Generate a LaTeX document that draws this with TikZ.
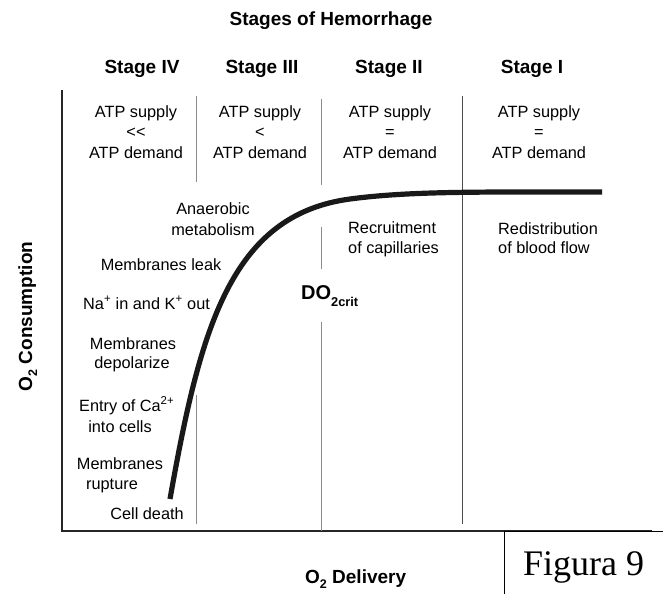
\documentclass[tikz,border=0pt]{standalone}
\usepackage{fontspec}
\setmainfont{Liberation Sans}
\newfontfamily\figserif{Liberation Serif}
\begin{document}
\begin{tikzpicture}[x=1pt,y=-1pt,
  reg/.style={font=\fontsize{16.3}{19}\selectfont, inner sep=0pt, anchor=base},
  regw/.style={reg, anchor=base west},
  bld/.style={font=\fontsize{19}{22}\selectfont\bfseries, inner sep=0pt, anchor=base},
  axisline/.style={line width=2pt, black!85},
  divlight/.style={line width=1pt, black!45},
  divdark/.style={line width=1pt, black!70},
  curveline/.style={line width=5.2pt, black!90}]
\useasboundingbox (0,0) rectangle (663,594);
% axes
\coordinate (ytop) at (62,90);
\coordinate (orig) at (62,531);
\coordinate (xend) at (652,531);
\draw[axisline] (ytop) -- (orig) -- (xend);
% Figura box
\coordinate (boxtl) at (504,531.5);
\coordinate (boxbl) at (504,594);
\coordinate (boxtr) at (663,531.5);
\draw[line width=1pt] (boxbl) -- (boxtl) -- (boxtr);
\node[font=\figserif\fontsize{36}{40}\selectfont, inner sep=0pt, anchor=base west] (fig) at (523,575) {Figura 9};
% dividers
\coordinate (a1) at (196,96); \coordinate (a2) at (196,182);
\coordinate (a3) at (196,395); \coordinate (a4) at (196,524);
\draw[divlight] (a1) -- (a2); \draw[divlight] (a3) -- (a4);
\coordinate (b1) at (321,99); \coordinate (b2) at (321,185);
\coordinate (b3) at (321,227); \coordinate (b4) at (321,269);
\coordinate (b5) at (321,322); \coordinate (b6) at (321,531);
\draw[divlight] (b1) -- (b2); \draw[divlight] (b3) -- (b4); \draw[divlight] (b5) -- (b6);
\coordinate (c1) at (462,96); \coordinate (c2) at (462,524);
\draw[divdark] (c1) -- (c2);
% curve
\coordinate (k0) at (170,499);
\coordinate (k1) at (350,199);
\coordinate (k2) at (602,192);
\draw[curveline] (k0) .. controls (200,330) and (230,215) .. (k1)
                      .. controls (410,191) and (480,192) .. (k2);
% title and stages
\node[bld] (title) at (331,26) {Stages of Hemorrhage};
\node[bld] (s4) at (142,74) {Stage IV};
\node[bld] (s3) at (262,74) {Stage III};
\node[bld] (s2) at (389,74) {Stage II};
\node[bld] (s1) at (532,74) {Stage I};
% ATP rows
\node[reg] (a4s) at (136,117) {ATP supply};
\node[reg] (a4r) at (136,137.5) {<{}<};
\node[reg] (a4d) at (136,158) {ATP demand};
\node[reg] (a3s) at (260,117) {ATP supply};
\node[reg] (a3r) at (260,137.5) {<};
\node[reg] (a3d) at (260,158) {ATP demand};
\node[reg] (a2s) at (390,117) {ATP supply};
\node[reg] (a2r) at (390,137.5) {=};
\node[reg] (a2d) at (390,158) {ATP demand};
\node[reg] (a1s) at (539,117) {ATP supply};
\node[reg] (a1r) at (539,137.5) {=};
\node[reg] (a1d) at (539,158) {ATP demand};
% left texts
\node[reg] (an1) at (213,214) {Anaerobic};
\node[reg] (an2) at (213,235) {metabolism};
\node[reg] (leak) at (161,270.7) {Membranes leak};
\node[regw] (nak) at (83,309) {Na\textsuperscript{+} in and K\textsuperscript{+} out};
\node[reg] (dep1) at (133,349) {Membranes};
\node[reg] (dep2) at (132,368.5) {depolarize};
\node[regw] (ca1) at (79,411) {Entry of Ca\textsuperscript{2+}};
\node[reg] (ca2) at (120,432) {into cells};
\node[reg] (rup1) at (120,469) {Membranes};
\node[reg] (rup2) at (112,489) {rupture};
\node[reg] (death) at (147,519) {Cell death};
% right texts
\node[regw] (rec1) at (348,233) {Recruitment};
\node[regw] (rec2) at (348,253) {of capillaries};
\node[regw] (red1) at (498,234) {Redistribution};
\node[regw] (red2) at (498,253) {of blood flow};
% DO2crit
\node[bld, anchor=base west, font=\fontsize{20}{22}\selectfont\bfseries] (do) at (301,299.3) {DO\raisebox{-7.4pt}{\fontsize{12.8}{14}\selectfont\bfseries 2crit}};
% axis labels
\node[bld, anchor=base west] (xlab) at (305,583) {O\raisebox{-5pt}{\fontsize{12.5}{14}\selectfont\bfseries 2} Delivery};
\node[bld, rotate=90] (ylab) at (32,316.5) {O\raisebox{-5pt}{\fontsize{12.5}{14}\selectfont\bfseries 2} Consumption};
\end{tikzpicture}
\end{document}
